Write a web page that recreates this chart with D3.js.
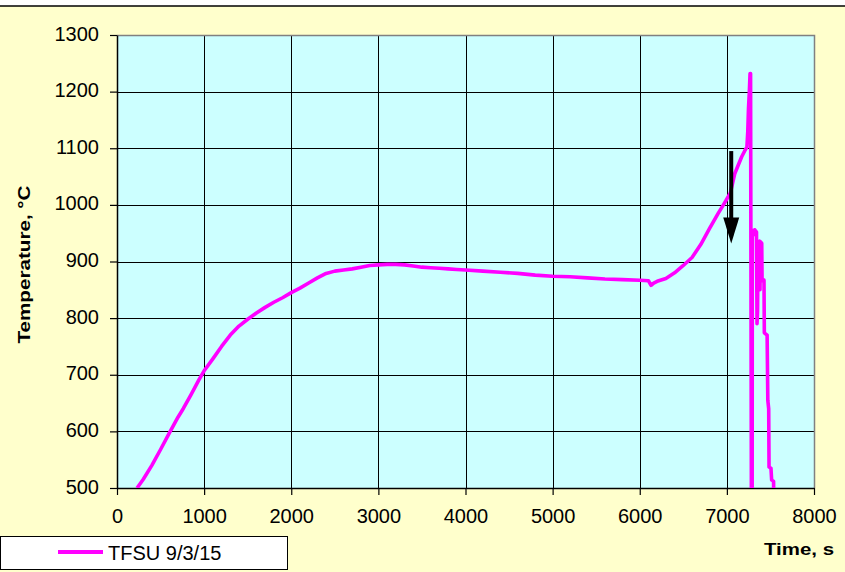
<!DOCTYPE html>
<html>
<head>
<meta charset="utf-8">
<script src="https://cdn.jsdelivr.net/npm/d3@7/dist/d3.min.js"></script>
<style>
  html, body { margin: 0; padding: 0; background: #ffffff; }
  svg { display: block; }
  text { font-family: "Liberation Sans", Arial, sans-serif; fill: #000; }
</style>
</head>
<body>
<svg id="chart" width="845" height="572"></svg>
<script>
// Furnace thermocouple record: time (s) and temperature (°C)
const timeS = [
  230, 300, 400, 500, 600, 700, 760, 850, 940, 1000,
  1100, 1200, 1300, 1400, 1500, 1600, 1700, 1800, 1900, 2000,
  2100, 2200, 2300, 2400, 2500, 2600, 2700, 2800, 2900, 3000,
  3100, 3200, 3300, 3400, 3500, 3600, 3700, 3800, 3900, 4000,
  4200, 4400, 4600, 4800, 5000, 5200, 5400, 5600, 5800, 6000,
  6100, 6130, 6160, 6200, 6300, 6400, 6500, 6600, 6700, 6800,
  6900, 6960, 7040, 7090, 7170, 7210, 7230, 7240, 7248, 7258,
  7266, 7272, 7282, 7290, 7292, 7305, 7320, 7340, 7346, 7352,
  7358, 7375, 7380, 7386, 7400, 7404, 7426, 7430, 7462, 7470,
  7480, 7484, 7506, 7514, 7536, 7542
];
const tempC = [
  500, 515, 540, 568, 597, 625, 640, 665, 691, 707,
  728, 750, 770, 786, 798, 809, 819, 828, 836, 845,
  853, 862, 871, 879, 883, 885, 887, 890, 893, 894,
  895, 895, 894, 892, 890, 889, 888, 887, 886, 885,
  883, 881, 879, 876, 874, 873, 871, 869, 868, 867,
  866, 858, 862, 865, 870, 880, 893, 907, 930, 958,
  985, 1000, 1021, 1055, 1085, 1097, 1102, 1130, 1170, 1200,
  1232, 1232, 420, 420, 955, 947, 956, 952, 790, 812,
  933, 936, 850, 935, 932, 866, 867, 774, 770, 655,
  640, 537, 535, 514, 512, 420
];

const xTicks = [0, 1000, 2000, 3000, 4000, 5000, 6000, 7000, 8000];
const yTicks = [500, 600, 700, 800, 900, 1000, 1100, 1200, 1300];
const seriesName = "TFSU 9/3/15";
const xTitle = "Time, s";
const yTitle = "Temperature, °C";

// Marker arrow: time (s), start and tip temperature (°C)
const arrowTime = 7050;
const arrowTemps = [1095, 932];

const svg = d3.select("#chart");
const W = 845, H = 572;
const plot = { left: 117, right: 814, top: 35, bottom: 488 };

const x = d3.scaleLinear().domain([0, 8000]).range([plot.left, plot.right]);
const y = d3.scaleLinear().domain([500, 1300]).range([plot.bottom, plot.top]);

// page background
svg.append("rect").attr("x", 0).attr("y", 0).attr("width", W).attr("height", H).attr("fill", "#ffffff");
svg.append("rect").attr("x", 0).attr("y", 6).attr("width", W).attr("height", H - 6).attr("fill", "#FFFFCC");
svg.append("line").attr("x1", 0).attr("x2", W).attr("y1", 6).attr("y2", 6)
  .attr("stroke", "#000").attr("stroke-width", 1.5);

// plot area
svg.append("rect")
  .attr("x", plot.left).attr("y", plot.top)
  .attr("width", plot.right - plot.left).attr("height", plot.bottom - plot.top)
  .attr("fill", "#CCFFFF");

// gridlines
const grid = svg.append("g").attr("shape-rendering", "crispEdges");
grid.selectAll(".vg").data(xTicks.filter(t => t > 0 && t < 8000)).join("line")
  .attr("x1", d => Math.round(x(d)) + 0.5).attr("x2", d => Math.round(x(d)) + 0.5)
  .attr("y1", plot.top).attr("y2", plot.bottom)
  .attr("stroke", "#000").attr("stroke-width", 1);
grid.selectAll(".hg").data(yTicks.filter(t => t > 500 && t < 1300)).join("line")
  .attr("y1", d => Math.round(y(d)) + 0.5).attr("y2", d => Math.round(y(d)) + 0.5)
  .attr("x1", plot.left).attr("x2", plot.right)
  .attr("stroke", "#000").attr("stroke-width", 1);

// plot border (top and right)
svg.append("path")
  .attr("d", `M${plot.left},${plot.top + 0.5}H${plot.right + 0.5}V${plot.bottom}`)
  .attr("fill", "none").attr("stroke", "#808080").attr("stroke-width", 1.5);

// axes
const fmt = d3.format("d");
const xAxis = d3.axisBottom(x).tickValues(xTicks).tickFormat(fmt)
  .tickSize(7).tickSizeOuter(0).tickPadding(14);
const yAxis = d3.axisLeft(y).tickValues(yTicks).tickFormat(fmt)
  .tickSize(7).tickSizeOuter(0).tickPadding(11);

const gx = svg.append("g").attr("transform", `translate(0,${plot.bottom})`).call(xAxis);
const gy = svg.append("g").attr("transform", `translate(${plot.left},0)`).call(yAxis);
[gx, gy].forEach(g => {
  g.selectAll("path.domain").attr("stroke", "#000").attr("stroke-width", 1.5);
  g.selectAll(".tick line").attr("stroke", "#000").attr("stroke-width", 1.2);
  g.selectAll(".tick text")
    .attr("font-family", "'Liberation Sans', Arial, sans-serif")
    .attr("font-size", 20).attr("fill", "#000");
});
gy.selectAll(".tick text").attr("dy", "0.25em");

// data line, clipped to the plot area
svg.append("clipPath").attr("id", "clip")
  .append("rect")
  .attr("x", plot.left).attr("y", plot.top)
  .attr("width", plot.right - plot.left).attr("height", plot.bottom - plot.top);

const pts = timeS.map((t, i) => [t, tempC[i]]);
const line = d3.line().x(d => x(d[0])).y(d => y(d[1]));
svg.append("path")
  .attr("clip-path", "url(#clip)")
  .attr("d", line(pts))
  .attr("fill", "none").attr("stroke", "#FF00FF")
  .attr("stroke-width", 3.6).attr("stroke-linejoin", "round");

// marker arrow
const ax = x(arrowTime);
const yStart = y(arrowTemps[0]);
const yTip = y(arrowTemps[1]);
const headLen = 26, headHalf = 8;
svg.append("line")
  .attr("x1", ax).attr("x2", ax).attr("y1", yStart).attr("y2", yTip - headLen + 2)
  .attr("stroke", "#000").attr("stroke-width", 4);
svg.append("path")
  .attr("d", `M${ax - headHalf},${yTip - headLen}L${ax + headHalf},${yTip - headLen}L${ax},${yTip}Z`)
  .attr("fill", "#000");

// axis titles
svg.append("text")
  .attr("transform", `translate(30,${(plot.top + plot.bottom) / 2 + 3}) rotate(-90)`)
  .attr("text-anchor", "middle")
  .attr("font-size", 17).attr("font-weight", "bold")
  .attr("textLength", 158).attr("lengthAdjust", "spacingAndGlyphs")
  .text(yTitle);
svg.append("text")
  .attr("x", 834).attr("y", 555)
  .attr("text-anchor", "end")
  .attr("font-size", 17).attr("font-weight", "bold")
  .attr("textLength", 70).attr("lengthAdjust", "spacingAndGlyphs")
  .text(xTitle);

// legend
const lg = svg.append("g");
lg.append("rect").attr("x", 0.5).attr("y", 536.5).attr("width", 287).attr("height", 33)
  .attr("fill", "#ffffff").attr("stroke", "#000").attr("stroke-width", 1);
lg.append("line").attr("x1", 58).attr("x2", 103).attr("y1", 552).attr("y2", 552)
  .attr("stroke", "#FF00FF").attr("stroke-width", 4);
lg.append("text").attr("x", 108).attr("y", 560).attr("font-size", 20).text(seriesName);
</script>
</body>
</html>
